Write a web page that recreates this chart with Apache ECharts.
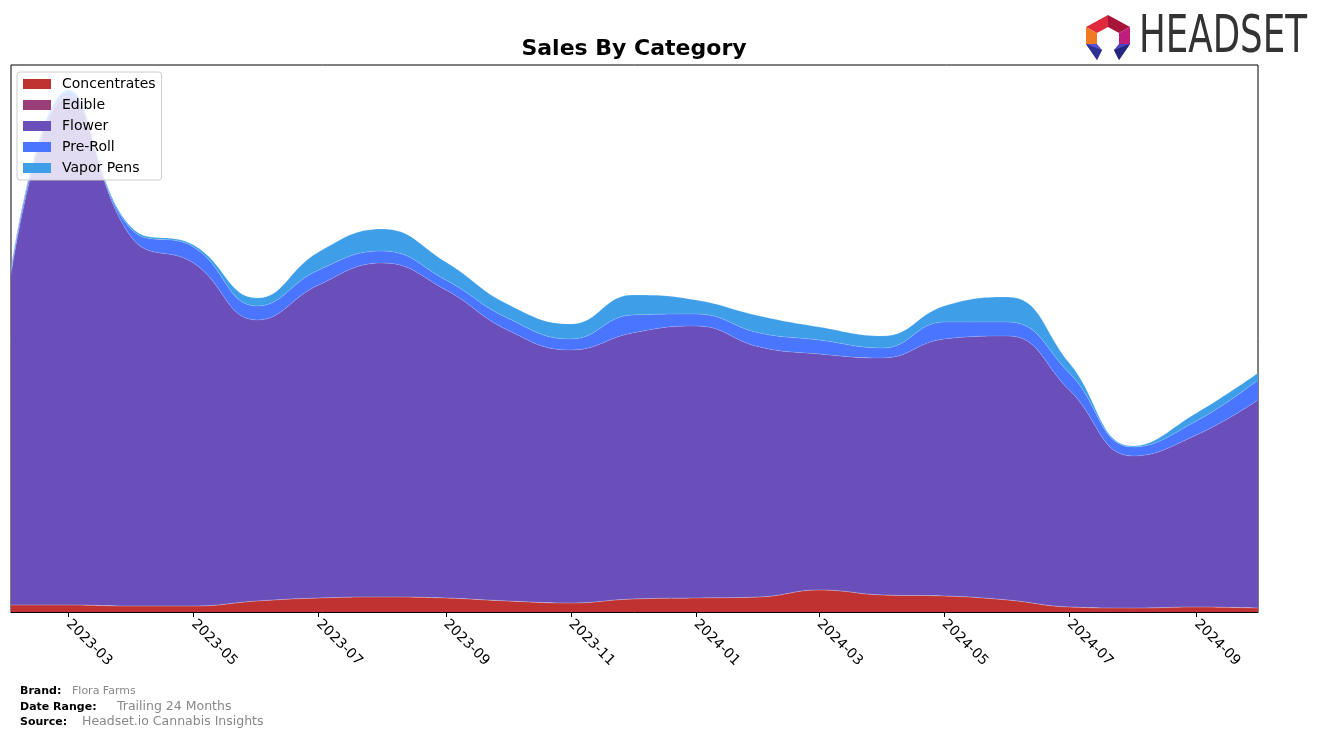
<!DOCTYPE html>
<html>
<head>
<meta charset="utf-8">
<script src="https://cdn.jsdelivr.net/npm/echarts@6/dist/echarts.min.js"></script>
<style>
html,body{margin:0;padding:0;background:#fff;}
#chart{width:1322px;height:739px;}
</style>
</head>
<body>
<div id="chart"></div>
<script>
// ---- data ----
const months = ['2023-02','2023-03','2023-04','2023-05','2023-06','2023-07','2023-08','2023-09','2023-10','2023-11','2023-12',
                '2024-01','2024-02','2024-03','2024-04','2024-05','2024-06','2024-07','2024-08','2024-09','2024-10'];
const concentrates = [7,7,6,6,11,14,15,14,11,9,13,14,15,22,17,16,12,5,4,5,4];
const edible       = [0,0,0,0,0,0,0,0,0,0,0,0,0,0,0,0,0,0,0,0,0];
const flower       = [330,509,368,343,281,313,334,308,271,253,266,272,250,236,237,257,264,217,152,172,208];
const preRoll      = [4,4,8,16,14,15,12,10,12,11,18,12,14,14,10,17,14,17,9,14,20];
const vaporPens    = [2,2,2,2,8,18,22,18,14,15,20,14,17,13,12,16,25,10,1,8,7];
const tickLabels   = ['2023-03','2023-05','2023-07','2023-09','2023-11','2024-01','2024-03','2024-05','2024-07','2024-09'];
const seriesNames  = ['Concentrates','Edible','Flower','Pre-Roll','Vapor Pens'];
const seriesColors = ['#C03232','#9A3E7A','#6A4FBB','#4A76FF','#3E9FE8'];

function ts(m){ const p = m.split('-'); return Date.UTC(+p[0], +p[1]-1, 1); }
function fmt(v){ const d = new Date(v); const mm = d.getUTCMonth()+1; return d.getUTCFullYear()+'-'+(mm<10?'0':'')+mm; }

const seriesValues = [concentrates, edible, flower, preRoll, vaporPens];
const series = seriesNames.map((name,i)=>({
  name: name,
  type: 'line',
  xAxisIndex: 0,
  stack: 'total',
  smooth: 0.45,
  symbol: 'none',
  showSymbol: false,
  color: seriesColors[i],
  lineStyle: {width: 0.6, color: 'rgba(255,255,255,0.25)'},
  areaStyle: {color: seriesColors[i], opacity: 1},
  emphasis: {disabled: true},
  data: months.map((m,j)=>[ts(m), seriesValues[i][j]])
}));

const chart = echarts.init(document.getElementById('chart'), null, {renderer:'canvas'});

const cv = document.createElement('canvas').getContext('2d');
const logoFont = '52px "Liberation Sans Narrow", "DejaVu Sans Condensed", "Liberation Sans", sans-serif';
cv.font = logoFont;
const logoW = cv.measureText('HEADSET').width;
const logoScale = 168 / logoW;

const xMin = ts(months[0]), xMax = ts(months[months.length-1]);
const tickVals = tickLabels.map(ts);

const option = {
  animation: false,
  backgroundColor: '#ffffff',
  title: {
    text: 'Sales By Category',
    left: 634, top: 38, textAlign: 'center', padding: 0,
    textStyle: {fontFamily: 'DejaVu Sans', fontSize: 22, fontWeight: 'bold', color: '#000'}
  },
  legend: {
    data: seriesNames,
    orient: 'vertical',
    left: 17, top: 72,
    padding: [5, 6, 5, 6],
    itemWidth: 28, itemHeight: 10, itemGap: 7,
    icon: 'rect',
    backgroundColor: 'rgba(255,255,255,0.8)',
    borderColor: '#cccccc', borderWidth: 1, borderRadius: 3,
    textStyle: {fontFamily: 'DejaVu Sans', fontSize: 14, color: '#000', lineHeight: 14, padding: [0, 0, 0, 6]},
    selectedMode: false
  },
  grid: {left: 11, right: 64, top: 65, bottom: 127, show: true, borderColor: '#000', borderWidth: 1, backgroundColor: 'transparent', containLabel: false, outerBoundsMode: 'none'},
  xAxis: [{
    type: 'time',
    min: xMin, max: xMax,
    axisLine: {show: true, lineStyle: {color: '#000', width: 1}},
    axisTick: {show: false},
    axisLabel: {show: false},
    splitLine: {show: false}
  }, {
    type: 'value',
    position: 'bottom',
    min: xMin, max: xMax,
    axisLine: {show: false},
    axisTick: {show: true, inside: false, length: 5, lineStyle: {color: '#000'}, customValues: tickVals},
    axisLabel: {
      show: true, rotate: -45, margin: 10, color: '#000',
      fontFamily: 'DejaVu Sans', fontSize: 14,
      customValues: tickVals,
      formatter: v => fmt(v)
    },
    splitLine: {show: false}
  }],
  yAxis: {
    type: 'value', min: 0, max: 547,
    axisLine: {show: false}, axisTick: {show: false}, axisLabel: {show: false}, splitLine: {show: false}
  },
  series: series,
  graphic: [
    {type:'polygon', shape:{points:[[1086,27],[1108,15],[1108,27],[1097,33]]}, style:{fill:'#E02A3C'}},
    {type:'polygon', shape:{points:[[1108,15],[1130,27],[1119,33],[1108,27]]}, style:{fill:'#A8153A'}},
    {type:'polygon', shape:{points:[[1086,27],[1097,33],[1097,44],[1086,44]]}, style:{fill:'#F07A22'}},
    {type:'polygon', shape:{points:[[1130,27],[1130,44],[1119,44],[1119,33]]}, style:{fill:'#C01E7C'}},
    {type:'polygon', shape:{points:[[1086,44],[1097,44],[1102,50],[1097,60]]}, style:{fill:'#5B50D2'}},
    {type:'polygon', shape:{points:[[1086,44],[1102,50],[1097,60]]}, style:{fill:'#2E3192'}},
    {type:'polygon', shape:{points:[[1130,44],[1119,44],[1114,50],[1119,60]]}, style:{fill:'#4A45C0'}},
    {type:'polygon', shape:{points:[[1130,44],[1114,50],[1119,60]]}, style:{fill:'#23267E'}},
    {type:'text', x: 1139, y: 38, scaleX: logoScale,
      style:{text:'HEADSET', font: logoFont, fill:'#333333', textVerticalAlign:'middle', textAlign:'left'}},
    {type:'text', x:20, y:691, style:{text:'Brand:', font:'bold 11px "DejaVu Sans"', fill:'#000', textVerticalAlign:'middle'}},
    {type:'text', x:72, y:691, style:{text:'Flora Farms', font:'11px "DejaVu Sans"', fill:'#888', textVerticalAlign:'middle'}},
    {type:'text', x:20, y:707, style:{text:'Date Range:', font:'bold 11px "DejaVu Sans"', fill:'#000', textVerticalAlign:'middle'}},
    {type:'text', x:117, y:707, style:{text:'Trailing 24 Months', font:'12.5px "DejaVu Sans"', fill:'#888', textVerticalAlign:'middle'}},
    {type:'text', x:20, y:722, style:{text:'Source:', font:'bold 11px "DejaVu Sans"', fill:'#000', textVerticalAlign:'middle'}},
    {type:'text', x:82, y:722, style:{text:'Headset.io Cannabis Insights', font:'12.5px "DejaVu Sans"', fill:'#888', textVerticalAlign:'middle'}}
  ]
};
chart.setOption(option);
</script>
</body>
</html>
